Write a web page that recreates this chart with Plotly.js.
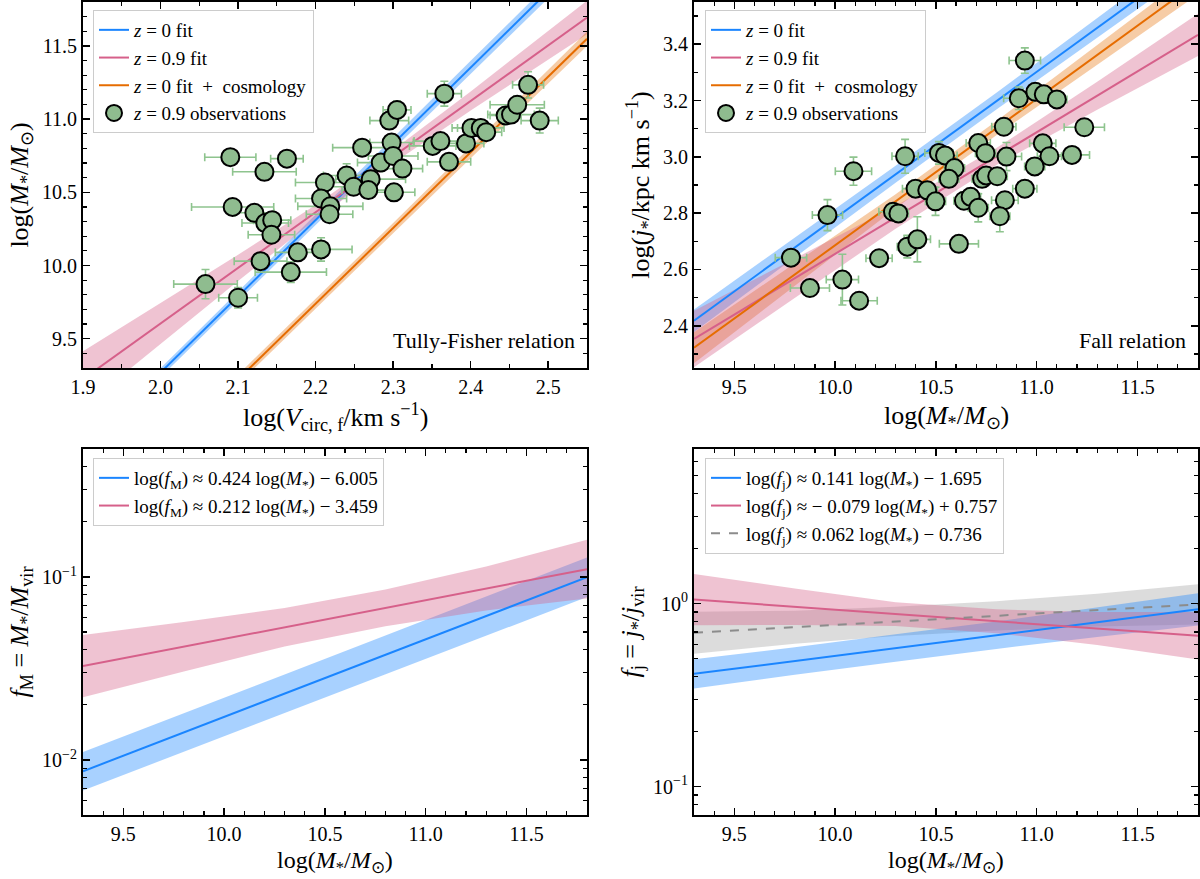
<!DOCTYPE html>
<html><head><meta charset="utf-8">
<script src="https://cdn.plot.ly/plotly-3.0.1.min.js"></script>
<style>html,body{margin:0;padding:0;background:#fff}#plot{width:1200px;height:879px}</style>
</head><body><div id="plot"></div>
<script>
// ---------- Top-left: Tully-Fisher ----------
const tfX = [2.090,2.163,2.134,2.093,2.121,2.135,2.144,2.143,2.129,2.177,2.168,2.058,2.100,2.207,2.212,2.207,2.219,2.218,2.240,2.249,2.260,2.271,2.268,2.284,2.298,2.300,2.312,2.301,2.295,2.305,2.366,2.351,2.361,2.372,2.394,2.401,2.413,2.420,2.445,2.452,2.460,2.474,2.489];
const tfY = [10.74,10.73,10.64,10.40,10.36,10.29,10.31,10.21,10.03,10.09,9.955,9.873,9.78,10.11,10.567,10.458,10.404,10.35,10.615,10.538,10.805,10.59,10.515,10.703,10.84,10.748,10.662,10.50,10.99,11.063,11.174,10.817,10.85,10.708,10.834,10.94,10.94,10.911,11.025,11.031,11.098,11.234,10.99];
const tfXerr = [0.033,0.021,0.041,0.053,0.025,0.030,0.024,0.030,0.034,0.029,0.046,0.041,0.025,0.040,0.038,0.033,0.042,0.030,0.030,0.030,0.038,0.045,0.034,0.030,0.028,0.032,0.026,0.027,0.025,0.018,0.022,0.030,0.034,0.028,0.023,0.025,0.030,0.020,0.020,0.030,0.035,0.020,0.024];
const tfYerr = [0.05,0.05,0.05,0.05,0.05,0.05,0.05,0.05,0.05,0.05,0.07,0.10,0.07,0.08,0.06,0.05,0.05,0.05,0.08,0.05,0.05,0.06,0.05,0.05,0.05,0.05,0.05,0.05,0.05,0.06,0.085,0.05,0.05,0.05,0.05,0.05,0.05,0.05,0.05,0.05,0.06,0.09,0.085];
const tfFitX = [1.90,2.00,2.10,2.20,2.30,2.40,2.50,2.55];
const tfZ0 = [8.748,9.269,9.790,10.311,10.832,11.353,11.874,12.134];
const tfZ0hw = [0.03,0.03,0.03,0.035,0.04,0.045,0.05,0.05];
const tfZ09 = [9.224,9.604,9.984,10.364,10.744,11.124,11.504,11.694];
const tfZ09hw = [0.19,0.14,0.09,0.05,0.045,0.065,0.10,0.115];
const tfCos = [8.188,8.705,9.222,9.739,10.256,10.773,11.290,11.549];
const tfCoshw = [0.03,0.03,0.03,0.03,0.035,0.04,0.045,0.05];

// ---------- Top-right: Fall relation ----------
const fallX = [10.941,10.911,10.993,11.035,11.100,10.837,11.236,10.710,10.746,10.850,11.030,11.063,11.175,10.990,10.941,10.347,10.515,10.545,10.592,10.564,10.729,10.749,10.804,10.399,10.457,10.498,10.639,10.672,10.710,10.842,10.817,10.287,10.314,10.091,9.962,9.781,9.875,10.036,10.119,10.218,10.358,10.408,10.614];
const fallY = [3.342,3.208,3.231,3.222,3.204,3.107,3.105,3.049,3.013,3.001,3.048,3.002,3.007,2.966,2.887,3.002,3.014,3.005,2.960,2.922,2.922,2.934,2.931,2.887,2.881,2.842,2.844,2.858,2.819,2.846,2.789,2.805,2.799,2.949,2.793,2.642,2.534,2.564,2.489,2.640,2.681,2.707,2.691];
const fallXerr = [0.078,0.075,0.06,0.06,0.05,0.06,0.10,0.06,0.05,0.075,0.065,0.06,0.087,0.05,0.06,0.065,0.07,0.06,0.05,0.05,0.05,0.05,0.05,0.065,0.05,0.05,0.05,0.05,0.05,0.066,0.05,0.07,0.05,0.09,0.075,0.078,0.097,0.08,0.09,0.065,0.05,0.065,0.097];
const fallYerr = [0.045,0.04,0.03,0.03,0.03,0.03,0.03,0.03,0.03,0.05,0.03,0.03,0.03,0.03,0.03,0.06,0.04,0.03,0.03,0.03,0.03,0.03,0.03,0.03,0.03,0.05,0.03,0.03,0.05,0.03,0.055,0.03,0.03,0.05,0.055,0.03,0.03,0.09,0.03,0.03,0.04,0.08,0.03];
const mFitX = [9.3,9.8,10.3,10.8,11.3,11.8];
const fallZ0 = [2.418,2.678,2.938,3.198,3.458,3.718];
const fallZ0hw = [0.04,0.035,0.03,0.03,0.035,0.04];
const fallZ09 = [2.353,2.569,2.785,3.001,3.217,3.433];
const fallZ09hw = [0.10,0.07,0.04,0.03,0.05,0.075];
const fallCos = [2.322,2.582,2.842,3.102,3.362,3.622];
const fallCoshw = [0.055,0.04,0.025,0.025,0.035,0.045];

// ---------- Bottom-left: f_M ----------
const fMblue = [0.00867,0.01413,0.02301,0.03750,0.06109,0.09954];
const fMblueLo = [0.00681,0.01109,0.01806,0.02943,0.04795,0.07760];
const fMblueHi = [0.01105,0.01800,0.02932,0.04778,0.07783,0.12780];
const fMpink = [0.03255,0.04155,0.05304,0.06770,0.08643,0.11032];
const fMpinkLo = [0.02201,0.03045,0.04165,0.05378,0.06556,0.07632];
const fMpinkHi = [0.04815,0.05671,0.06755,0.08523,0.11390,0.15941];

// ---------- Bottom-right: f_j ----------
const fjBlue = [0.4133,0.4862,0.5719,0.6727,0.7913,0.9307];
const fjBlueLo = [0.3438,0.4090,0.4812,0.5660,0.6580,0.7600];
const fjBlueHi = [0.4970,0.5779,0.6798,0.7995,0.9513,1.1397];
const fjPink = [1.0527,0.9612,0.8777,0.8014,0.7317,0.6681];
const fjPinkLo = [0.7627,0.7636,0.7556,0.6900,0.5945,0.4952];
const fjPinkHi = [1.4535,1.2101,1.0193,0.9307,0.9000,0.9012];
const fjGray = [0.6928,0.7440,0.7991,0.8582,0.9217,0.9899];
const fjGrayLo = [0.5317,0.6047,0.6648,0.7138,0.7490,0.7683];
const fjGrayHi = [0.9028,0.9154,0.9607,1.0318,1.1341,1.2754];

const legZ0 = '<i>z</i> = 0 fit';
const legZ09 = '<i>z</i> = 0.9 fit';
const legCos = '<i>z</i> = 0 fit  +  cosmology';
const legObs = '<i>z</i> = 0.9 observations';
const legFM = ['log(<i>f</i><sub>M</sub>) ≈ 0.424 log(<i>M</i><sub>*</sub>) − 6.005',
               'log(<i>f</i><sub>M</sub>) ≈ 0.212 log(<i>M</i><sub>*</sub>) − 3.459'];
const legFJ = ['log(<i>f</i><sub>j</sub>) ≈ 0.141 log(<i>M</i><sub>*</sub>) − 1.695',
               'log(<i>f</i><sub>j</sub>) ≈ − 0.079 log(<i>M</i><sub>*</sub>) + 0.757',
               'log(<i>f</i><sub>j</sub>) ≈ 0.062 log(<i>M</i><sub>*</sub>) − 0.736'];
const MLAB = 'log(<i>M</i><sub>*</sub>/<i>M</i><sub>⊙</sub>)';
const VLAB = 'log(<i>V</i><sub>circ, f</sub>/km s<sup>−1</sup>)';

const BLUE = '#1a85ff', PINK = '#d6608a', ORANGE = '#e66c00', GRAY = '#8c8c8c';
const BLUEF = 'rgba(26,133,255,0.38)', PINKF = 'rgba(214,96,138,0.38)', ORANGEF = 'rgba(230,108,0,0.35)', GRAYF = 'rgba(150,150,150,0.33)';
const FONT = "'Liberation Serif', 'Times New Roman', serif";
const TICKSIZE = 20, TITLESIZE = 26, LEGSIZE = 19;

const traces = [];
function band(xs, lo, hi, color, xa, ya) {
  traces.push({x: xs.concat(xs.slice().reverse()), y: lo.concat(hi.slice().reverse()),
    fill: 'toself', fillcolor: color, line: {width: 0}, mode: 'lines', hoverinfo: 'skip',
    showlegend: false, xaxis: xa, yaxis: ya});
}
function bandHW(xs, c, hw, color, xa, ya) {
  band(xs, c.map((v,i)=>v-hw[i]), c.map((v,i)=>v+hw[i]), color, xa, ya);
}
function line(xs, ys, color, name, xa, ya, leg, dash) {
  traces.push({x: xs, y: ys, mode: 'lines', line: {color: color, width: 2, dash: dash || 'solid'},
    name: name, legend: leg, xaxis: xa, yaxis: ya, showlegend: true});
}
function obs(xs, ys, ex, ey, xa, ya, leg) {
  traces.push({x: xs, y: ys, mode: 'markers', name: legObs, legend: leg, xaxis: xa, yaxis: ya,
    marker: {size: 18, color: '#8fbc8f', line: {color: '#000', width: 2}},
    error_x: {type: 'data', array: ex, color: '#8ec48e', thickness: 1.6, width: 4},
    error_y: {type: 'data', array: ey, color: '#8ec48e', thickness: 1.6, width: 4}});
}

// top-left
bandHW(tfFitX, tfZ0, tfZ0hw, BLUEF, 'x', 'y');
bandHW(tfFitX, tfZ09, tfZ09hw, PINKF, 'x', 'y');
bandHW(tfFitX, tfCos, tfCoshw, ORANGEF, 'x', 'y');
line(tfFitX, tfZ0, BLUE, legZ0, 'x', 'y', 'legend');
line(tfFitX, tfZ09, PINK, legZ09, 'x', 'y', 'legend');
line(tfFitX, tfCos, ORANGE, legCos, 'x', 'y', 'legend');
obs(tfX, tfY, tfXerr, tfYerr, 'x', 'y', 'legend');
// top-right
bandHW(mFitX, fallZ0, fallZ0hw, BLUEF, 'x2', 'y2');
bandHW(mFitX, fallCos, fallCoshw, ORANGEF, 'x2', 'y2');
bandHW(mFitX, fallZ09, fallZ09hw, PINKF, 'x2', 'y2');
line(mFitX, fallZ0, BLUE, legZ0, 'x2', 'y2', 'legend2');
line(mFitX, fallZ09, PINK, legZ09, 'x2', 'y2', 'legend2');
line(mFitX, fallCos, ORANGE, legCos, 'x2', 'y2', 'legend2');
obs(fallX, fallY, fallXerr, fallYerr, 'x2', 'y2', 'legend2');
// bottom-left
band(mFitX, fMblueLo, fMblueHi, BLUEF, 'x3', 'y3');
band(mFitX, fMpinkLo, fMpinkHi, PINKF, 'x3', 'y3');
line(mFitX, fMblue, BLUE, legFM[0], 'x3', 'y3', 'legend3');
line(mFitX, fMpink, PINK, legFM[1], 'x3', 'y3', 'legend3');
// bottom-right
band(mFitX, fjGrayLo, fjGrayHi, GRAYF, 'x4', 'y4');
band(mFitX, fjBlueLo, fjBlueHi, BLUEF, 'x4', 'y4');
band(mFitX, fjPinkLo, fjPinkHi, PINKF, 'x4', 'y4');
line(mFitX, fjBlue, BLUE, legFJ[0], 'x4', 'y4', 'legend4');
line(mFitX, fjPink, PINK, legFJ[1], 'x4', 'y4', 'legend4');
line(mFitX, fjGray, GRAY, legFJ[2], 'x4', 'y4', 'legend4', 'dash');

const W = 1200, H = 879;
const dx = (a,b)=>[a/W, b/W];
const dy = (top,bot)=>[(H-bot)/H, (H-top)/H];
const tfont = (s)=>({family: FONT, size: s || TITLESIZE, color: '#000'});

function ax(o) {
  return Object.assign({
    showline: true, linecolor: '#000', linewidth: 2, mirror: 'allticks',
    ticks: 'inside', ticklen: 7, tickwidth: 1.5, tickcolor: '#000',
    showgrid: false, zeroline: false,
    tickfont: {family: FONT, size: TICKSIZE, color: '#000'}
  }, o);
}
const minorLin = (d)=>({dtick: d, ticks: 'inside', ticklen: 4, tickwidth: 1.2, tickcolor: '#000', showgrid: false});

const legStyle = (x, y) => ({x: x, y: y, xanchor: 'left', yanchor: 'top', xref: 'paper', yref: 'paper',
  bgcolor: 'rgba(255,255,255,0.85)', bordercolor: '#cccccc', borderwidth: 1,
  font: {family: FONT, size: LEGSIZE, color: '#000'}, tracegroupgap: 0, itemwidth: 30});

// x-axis titles drawn as annotations at pixel positions
const xTitle = (text, cx, cy, s) => ({text: text, xref: 'paper', yref: 'paper', x: cx/W, y: 1 - cy/H,
  xanchor: 'center', yanchor: 'middle', showarrow: false, borderpad: 0, font: tfont(s)});

const layout = {
  width: W, height: H, margin: {l: 0, r: 0, t: 0, b: 0},
  font: {family: FONT, size: TICKSIZE, color: '#000'},
  paper_bgcolor: '#fff', plot_bgcolor: '#fff', showlegend: true,
  xaxis: ax({domain: dx(83,587), anchor: 'y', range: [1.9, 2.55], dtick: 0.1, tick0: 2.0, tickformat: '.1f',
    minor: minorLin(0.05)}),
  yaxis: ax({domain: dy(2,368), anchor: 'x', range: [9.3, 11.8], dtick: 0.5, tick0: 9.5, tickformat: '.1f',
    minor: minorLin(0.1), title: {text: MLAB, standoff: 6, font: tfont()}}),
  xaxis2: ax({domain: dx(694,1198), anchor: 'y2', range: [9.3, 11.8], dtick: 0.5, tick0: 9.5, tickformat: '.1f',
    minor: minorLin(0.1)}),
  yaxis2: ax({domain: dy(2,368), anchor: 'x2', range: [2.25, 3.55], dtick: 0.2, tick0: 2.4, tickformat: '.1f',
    minor: minorLin(0.1), title: {text: 'log(<i>j</i><sub>*</sub>/kpc km s<sup>−1</sup>)', standoff: 6, font: tfont()}}),
  xaxis3: ax({domain: dx(83,587), anchor: 'y3', range: [9.3, 11.8], dtick: 0.5, tick0: 9.5, tickformat: '.1f',
    minor: minorLin(0.1)}),
  yaxis3: ax({domain: dy(449,815), anchor: 'x3', type: 'log', range: [Math.log10(0.005), Math.log10(0.5)],
    tickmode: 'array', tickvals: [0.01, 0.1], ticktext: ['10<sup>−2</sup>', '10<sup>−1</sup>'],
    minor: {tickmode: 'array', tickvals: [0.006,0.007,0.008,0.009,0.02,0.03,0.04,0.05,0.06,0.07,0.08,0.09,0.2,0.3,0.4],
      ticks: 'inside', ticklen: 4, tickwidth: 1.2, tickcolor: '#000', showgrid: false},
    title: {text: '<i>f</i><sub>M</sub> = <i>M</i><sub>*</sub>/<i>M</i><sub>vir</sub>', standoff: 6, font: tfont()}}),
  xaxis4: ax({domain: dx(694,1198), anchor: 'y4', range: [9.3, 11.8], dtick: 0.5, tick0: 9.5, tickformat: '.1f',
    minor: minorLin(0.1)}),
  yaxis4: ax({domain: dy(449,815), anchor: 'x4', type: 'log', range: [Math.log10(0.07), Math.log10(7)],
    tickmode: 'array', tickvals: [0.1, 1], ticktext: ['10<sup>−1</sup>', '10<sup>0</sup>'],
    minor: {tickmode: 'array', tickvals: [0.08,0.09,0.2,0.3,0.4,0.5,0.6,0.7,0.8,0.9,2,3,4,5,6,7],
      ticks: 'inside', ticklen: 4, tickwidth: 1.2, tickcolor: '#000', showgrid: false},
    title: {text: '<i>f</i><sub>j</sub> = <i>j</i><sub>*</sub>/<i>j</i><sub>vir</sub>', standoff: 6, font: tfont()}}),
  legend: legStyle(93/W, 1 - 10/H),
  legend2: legStyle(705/W, 1 - 10/H),
  legend3: legStyle(93/W, 1 - 458/H),
  legend4: legStyle(705/W, 1 - 458/H),
  annotations: [
    {text: 'Tully-Fisher relation', xref: 'x domain', yref: 'y domain', x: 0.98, y: 0.035, xanchor: 'right', yanchor: 'bottom',
     showarrow: false, font: {family: FONT, size: 22, color: '#000'}},
    {text: 'Fall relation', xref: 'x2 domain', yref: 'y2 domain', x: 0.98, y: 0.035, xanchor: 'right', yanchor: 'bottom',
     showarrow: false, font: {family: FONT, size: 22, color: '#000'}},
    xTitle(VLAB, 335, 417),
    xTitle(MLAB, 946, 417),
    xTitle(MLAB, 335, 862, 24),
    xTitle(MLAB, 946, 862, 24)
  ]
};

Plotly.newPlot('plot', traces, layout, {staticPlot: true});
</script></body></html>
